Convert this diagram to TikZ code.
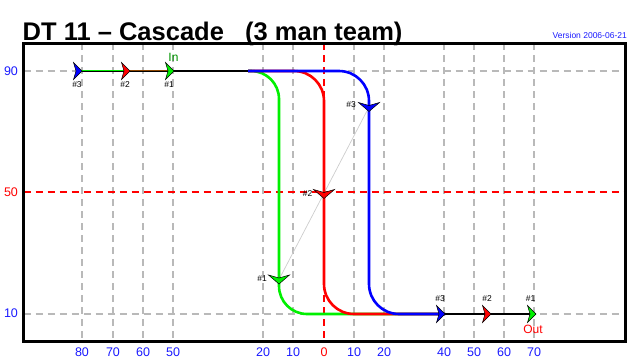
\documentclass[tikz,border=0pt]{standalone}
\usepackage{fontspec}
\setmainfont{Liberation Sans}
\definecolor{gridgray}{RGB}{185,185,185}
\definecolor{axblue}{RGB}{25,25,255}
\definecolor{pgreen}{RGB}{0,240,0}
\definecolor{ingreen}{RGB}{0,150,0}
\definecolor{mybrown}{RGB}{140,70,0}
\definecolor{diaggray}{RGB}{205,205,205}
\begin{document}
\begin{tikzpicture}[x=1pt,y=-1pt,
  grid/.style={draw=gridgray, line width=1.1pt, dash pattern=on 7pt off 5pt},
  redgrid/.style={draw=red, line width=1.1pt, dash pattern=on 7pt off 5pt},
  route/.style={line width=2.6pt},
  ax/.style={font=\fontsize{12.5}{14}\selectfont, text=axblue, inner sep=0pt},
  tag/.style={font=\fontsize{8.5}{10}\selectfont, inner sep=0pt},
  rmk/.pic={\filldraw[draw=black, line width=0.5pt, fill=#1] (0,0) -- (-8.5,-8.5) -- (-6,0) -- (-8.5,8.5) -- cycle;},
  dmk/.pic={\filldraw[draw=black, line width=0.5pt, fill=#1] (0,4.5) -- (-10.5,-4.5) -- (0,-1.5) -- (10.5,-4.5) -- cycle;}
]
\useasboundingbox (0,0) rectangle (640,360);
% grid
\foreach \x in {82,113,143,173,263,293,354,384,444,474,504,534}
  \draw[grid] (\x,43) -- (\x,341.5);
\draw[grid] (23.5,71) -- (625.5,71);
\draw[grid] (23.5,314) -- (625.5,314);
\draw[redgrid] (23.5,192) -- (625.5,192);
\draw[redgrid] (324,43) -- (324,341.5);
% frame
\draw[line width=3pt] (23.5,43) rectangle (625.5,341.5);
% key points
\coordinate (t3) at (82,71);
\coordinate (t2) at (130,71);
\coordinate (t1) at (174,71);
\coordinate (split) at (248,71);
\coordinate (b3) at (445,314);
\coordinate (b2) at (491,314);
\coordinate (b1) at (536,314);
\coordinate (d1) at (279,279.5);
\coordinate (d2) at (324,194);
\coordinate (d3) at (369,107);
% diagonal
\draw[diaggray, line width=0.7pt] (d1) -- (d3);
% routes
\draw[route, line width=2.8pt] (t3) -- (split);
\draw[pgreen, line width=1pt] ([yshift=1pt]t3) -- ([yshift=1pt]t2);
\draw[mybrown, line width=1pt] ([yshift=1pt]t2) -- ([yshift=1pt]t1);
\draw[route, pgreen, rounded corners=28pt] (split) -- (279,71) -- (279,314) -- (b3);
\draw[route, red, rounded corners=30pt] (split) -- (324,71) -- (324,314) -- (b3);
\draw[route, blue, rounded corners=30pt] (split) -- (369,71) -- (369,314) -- (b3);
\draw[route, line width=2.8pt] (b3) -- (b1);
% markers
\pic at (t3) {rmk=blue};
\pic at (t2) {rmk=red};
\pic at (t1) {rmk=pgreen};
\pic at (b3) {rmk=blue};
\pic at (b2) {rmk=red};
\pic at (b1) {rmk=pgreen};
\pic at (d3) {dmk=blue};
\pic at (d2) {dmk=red};
\pic at (d1) {dmk=pgreen};
% marker labels
\node[tag] (lt3) at (77,84.5) {\#3};
\node[tag] (lt2) at (125,84.5) {\#2};
\node[tag] (lt1) at (169,84.5) {\#1};
\node[font=\fontsize{12}{14}\selectfont, text=ingreen, inner sep=0pt] (in) at (173.5,57.5) {In};
\node[tag] (lb3) at (440,298.5) {\#3};
\node[tag] (lb2) at (487,298.5) {\#2};
\node[tag] (lb1) at (530.5,298.5) {\#1};
\node[font=\fontsize{12}{14}\selectfont, text=red, inner sep=0pt] (out) at (533,329.5) {Out};
\node[tag] (ld3) at (351,105) {\#3};
\node[tag] (ld2) at (307.5,193.5) {\#2};
\node[tag] (ld1) at (262,279) {\#1};
% axis labels
\node[ax] (y90) at (11,71) {90};
\node[ax, text=red] (y50) at (11,192) {50};
\node[ax] (y10) at (11,313) {10};
\foreach \x/\v [count=\i] in {82/80,113/70,143/60,173/50,263/20,293/10,354/10,384/20,444/40,474/50,504/60,534/70}
  \node[ax] (xl\i) at (\x,352.5) {\v};
\node[ax, text=red] (x0) at (324,352.5) {0};
% title
\node[anchor=base west, inner sep=0pt, font=\fontsize{25.5}{28}\bfseries] (title) at (22.5,40.5) {DT 11 -- Cascade \ \ (3 man team)};
\node[anchor=base east, inner sep=0pt, font=\fontsize{8.5}{10}\selectfont, text=axblue] (ver) at (627,38) {Version 2006-06-21};
\end{tikzpicture}
\end{document}
